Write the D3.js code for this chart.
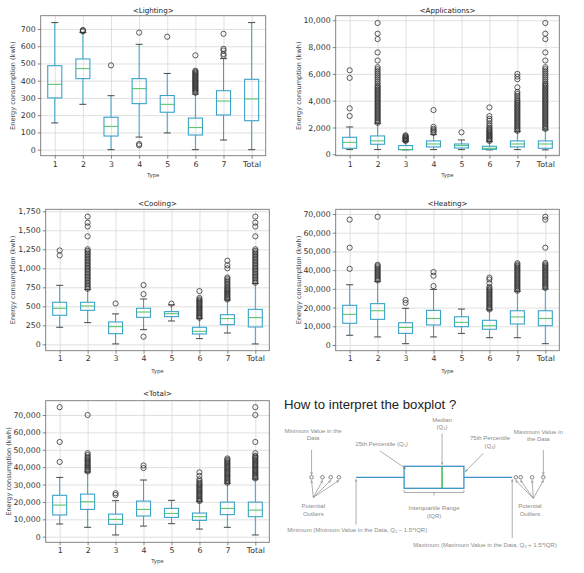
<!DOCTYPE html>
<html><head><meta charset="utf-8">
<script src="https://cdn.jsdelivr.net/npm/d3@7"></script>
<style>body{margin:0;background:#fff}svg{display:block}</style>
</head><body><svg id="c" width="584" height="573"></svg>
<script>
const categories = ["1","2","3","4","5","6","7","Total"];

// ---- Lighting ----
const lightingLow    = [155,263,0,73,97,0,56,0];
const lightingQ1     = [300,412,79,267,217,85,201,168];
const lightingMedian = [379,470,135,354,263,128,282,294];
const lightingQ3     = [487,526,188,412,314,183,342,408];
const lightingHigh   = [737,680,313,611,442,322,528,737];
const lightingOutliers = [[],[686,690,694],[489],[679,33,25],[655],
  [330,337,344,350,356,362,368,374,380,386,392,398,404,410,416,422,428,434,440,446,452,458,547],
  [545,555,575,585,672],[]];
const lightingTicks = [0,100,200,300,400,500,600,700];

// ---- Applications ----
const appLow    = [350,350,330,350,350,330,350,330];
const appQ1     = [450,750,340,550,470,370,550,450];
const appMedian = [895,1000,360,770,650,450,770,770];
const appQ3     = [1270,1370,650,1000,770,600,1000,1000];
const appHigh   = [2040,2310,950,1470,1070,950,1690,1820];
const appOutliers = [[2860,3430,5700,6270],
  [2350,2450,2550,2650,2750,2850,2950,3050,3150,3250,3350,3450,3550,3650,3750,3850,3950,4050,4150,4250,4350,4450,4550,4650,4750,4850,4950,5050,5150,5300,5450,5600,5750,5900,6050,6200,6350,6500,7000,7600,8600,9000,9800],
  [1000,1050,1100,1150,1200,1250,1300,1350,1420],
  [1600,1700,1800,1900,2050,3300],
  [1640],
  [1000,1080,1160,1240,1320,1400,1480,1560,1640,1720,1800,1900,2000,2150,2300,2500,2650,2850,3500],
  [1750,1850,1950,2050,2150,2250,2350,2450,2550,2650,2750,2850,2950,3050,3150,3250,3350,3450,3550,3650,3750,3850,3950,4050,4200,4350,4500,4650,5000,5600,5800,6000],
  [1900,2000,2100,2200,2300,2400,2500,2600,2700,2800,2900,3000,3100,3200,3300,3400,3500,3600,3700,3800,3900,4000,4100,4200,4300,4400,4500,4600,4700,4800,4900,5000,5100,5200,5300,5450,5600,5750,5900,6050,6200,6350,6500,7000,7600,8600,9000,9800]];
const appTicks = [0,2000,4000,6000,8000,10000];

// ---- Cooling ----
const coolLow    = [224,285,5,193,307,75,149,5];
const coolQ1     = [382,447,140,355,364,136,259,228];
const coolMedian = [474,504,232,425,403,171,338,351];
const coolQ3     = [553,553,294,474,430,224,390,460];
const coolHigh   = [776,720,400,596,520,340,583,800];
const coolOutliers = [[1170,1235],
  [730,750,770,790,810,830,850,870,890,910,930,950,970,990,1010,1030,1050,1070,1090,1110,1130,1150,1170,1190,1210,1230,1250,1420,1550,1600,1680],
  [537],
  [100,660,780],
  [535],
  [350,365,380,395,410,425,440,455,470,485,500,515,530,545,560,575,590,610,700],
  [590,605,620,635,650,665,680,695,710,725,740,760,780,800,820,840,860,880,1000,1040,1100],
  [810,830,850,870,890,910,930,950,970,990,1010,1030,1050,1070,1090,1110,1130,1150,1170,1190,1210,1230,1250,1420,1550,1600,1680]];
const coolTicks = [0,250,500,750,1000,1250,1500,1750];

// ---- Heating ----
const heatLow    = [5200,4300,700,4300,6200,3900,3900,700];
const heatQ1     = [11600,13700,6200,10700,9800,8400,11200,10300];
const heatMedian = [16400,18300,9400,14200,12100,10300,15000,14200];
const heatQ3     = [21200,22100,11900,18500,15100,13200,18300,18300];
const heatHigh   = [32200,34000,19600,29700,19200,18800,28700,29900];
const heatOutliers = [[40700,52000,67000],
  [34500,35200,35900,36600,37300,38000,38700,39400,40100,40800,41500,42200,42900,68500],
  [22500,24000],
  [31500,37000,39000],
  [],
  [19000,19700,20400,21100,21800,22500,23200,23900,24600,25300,26000,26700,27400,28100,28800,29500,30200,31000,33000,35000,36000],
  [29000,29700,30400,31100,31800,32500,33200,33900,34600,35300,36000,36700,37400,38100,38800,39500,40200,40900,41600,42300,43000,43700],
  [30500,31200,31900,32600,33300,34000,34700,35400,36100,36800,37500,38200,38900,39600,40300,41000,41700,42400,43100,43800,52000,67000,68500]];
const heatTicks = [0,10000,20000,30000,40000,50000,60000,70000];

// ---- Total ----
const totLow    = [7300,5400,1000,6100,7500,4400,5400,1000];
const totQ1     = [12500,15700,7100,11900,11100,9400,12700,11500];
const totMedian = [18200,20100,10000,15700,13400,11500,16300,15300];
const totQ3     = [23800,24500,13000,20500,16300,13600,19900,19900];
const totHigh   = [34100,37200,20700,32600,20900,20300,30700,33200];
const totOutliers = [[43000,54500,74500],
  [37500,38200,38900,39600,40300,41000,41700,42400,43100,43800,44500,45200,46000,47000,48000,70000],
  [24000,25000],
  [39500,41000],
  [],
  [20500,21200,21900,22600,23300,24000,24700,25400,26100,26800,27500,28200,28900,29600,30300,31000,32000,33000,35000,37000],
  [31000,31700,32400,33100,33800,34500,35200,35900,36600,37300,38000,38700,39400,40100,40800,41500,42200,42900,43600,44300,45000],
  [33500,34200,34900,35600,36300,37000,37700,38400,39100,39800,40500,41200,41900,42600,43300,44000,44700,45400,46100,46500,48000,54500,70000,74500]];
const totTicks = [0,10000,20000,30000,40000,50000,60000,70000];

// ---- Diagram (abstract units 0..100) ----
const diagLowOutliers  = [9, 13, 16, 19];
const diagStats = {min: 25.3, q1: 42.9, median: 56.8, q3: 64.8, max: 82.5};
const diagHighOutliers = [83.8, 85.6, 89.8, 93.9];

const svg = d3.select("#c");
const BOX = "#3aa3c8", MED = "#4cc065", FONT = "DejaVu Sans, sans-serif";
const commaFmt = d3.format(",");

const panels = [
  {title:"<Lighting>", low:lightingLow,q1:lightingQ1,med:lightingMedian,q3:lightingQ3,high:lightingHigh,out:lightingOutliers,ticks:lightingTicks,fmt:d3.format("d"),
   x0:40.7,x1:265.7,y0:15.7,y1:155.7,domain:[-35,777],titleY:12.5,ylabX:13.3,xtY:167.5,xlabY:176.5},
  {title:"<Applications>", low:appLow,q1:appQ1,med:appMedian,q3:appQ3,high:appHigh,out:appOutliers,ticks:appTicks,fmt:commaFmt,
   x0:335.7,x1:559.3,y0:15.7,y1:155.7,domain:[-104,10343],titleY:12.5,ylabX:299,xtY:167.5,xlabY:176.5},
  {title:"<Cooling>", low:coolLow,q1:coolQ1,med:coolMedian,q3:coolQ3,high:coolHigh,out:coolOutliers,ticks:coolTicks,fmt:commaFmt,
   x0:45.7,x1:269.3,y0:209.3,y1:350.7,domain:[-84,1776],titleY:205.5,ylabX:13.3,xtY:361.5,xlabY:372.5},
  {title:"<Heating>", low:heatLow,q1:heatQ1,med:heatMedian,q3:heatQ3,high:heatHigh,out:heatOutliers,ticks:heatTicks,fmt:commaFmt,
   x0:335.7,x1:559.3,y0:209.3,y1:350.7,domain:[-3046,72511],titleY:205.5,ylabX:299,xtY:361.5,xlabY:372.5},
  {title:"<Total>", low:totLow,q1:totQ1,med:totMedian,q3:totQ3,high:totHigh,out:totOutliers,ticks:totTicks,fmt:commaFmt,
   x0:45.7,x1:269.3,y0:400.7,y1:542.3,domain:[-3221,78225],titleY:396,ylabX:9,xtY:553.5,xlabY:562.5}
];

panels.forEach(p => {
  const g = svg.append("g");
  const x = d3.scalePoint().domain(categories).range([p.x0, p.x1]).padding(0.5);
  const y = d3.scaleLinear().domain(p.domain).range([p.y1, p.y0]);
  const w = p.x1 - p.x0, h = p.y1 - p.y0;
  // grid
  const gx = g.append("g").attr("transform", `translate(0,${p.y1})`)
    .call(d3.axisBottom(x).tickSize(-h).tickFormat(""));
  const gy = g.append("g").attr("transform", `translate(${p.x0},0)`)
    .call(d3.axisLeft(y).tickValues(p.ticks).tickSize(-w).tickFormat(""));
  [gx, gy].forEach(a => { a.select(".domain").remove(); a.selectAll("line").attr("stroke", "#d8d8d8").attr("stroke-width", 0.8); });
  // frame
  g.append("rect").attr("x", p.x0).attr("y", p.y0).attr("width", w).attr("height", h)
    .attr("fill", "none").attr("stroke", "#777").attr("stroke-width", 0.9);
  // axes with labels
  const ax = g.append("g").attr("transform", `translate(0,${p.y1})`)
    .call(d3.axisBottom(x).tickSize(3).tickPadding(2));
  const ay = g.append("g").attr("transform", `translate(${p.x0},0)`)
    .call(d3.axisLeft(y).tickValues(p.ticks).tickFormat(p.fmt).tickSize(3).tickPadding(2));
  [ax, ay].forEach(a => {
    a.select(".domain").remove();
    a.selectAll("line").attr("stroke", "#555").attr("stroke-width", 0.7);
    a.selectAll("text").attr("font-family", FONT).attr("font-size", 7.8).attr("fill", "#333");
  });
  ax.selectAll("text").attr("dy", null).attr("y", null).attr("transform", null)
    .attr("y", p.xtY - p.y1).attr("dominant-baseline", "auto");
  // title, labels
  g.append("text").attr("x", (p.x0 + p.x1) / 2).attr("y", p.titleY).attr("text-anchor", "middle")
    .attr("font-family", FONT).attr("font-size", 7.2).attr("fill", "#222").text(p.title);
  g.append("text").attr("transform", `translate(${p.ylabX},${(p.y0 + p.y1) / 2}) rotate(-90)`)
    .attr("text-anchor", "middle").attr("dominant-baseline", "middle")
    .attr("font-family", FONT).attr("font-size", 6.6).attr("fill", "#444").text("Energy consumption (kwh)");
  g.append("text").attr("x", (p.x0 + p.x1) / 2).attr("y", p.xlabY).attr("text-anchor", "middle")
    .attr("font-family", FONT).attr("font-size", 5.4).attr("fill", "#444").text("Type");

  const step = x.step(), bw = step * 0.5, cw = step * 0.25;
  categories.forEach((c, i) => {
    const cx = x(c);
    const bg = g.append("g");
    // whiskers
    bg.append("line").attr("x1", cx).attr("x2", cx).attr("y1", y(p.q3[i])).attr("y2", y(p.high[i]))
      .attr("stroke", BOX).attr("stroke-width", 1);
    bg.append("line").attr("x1", cx).attr("x2", cx).attr("y1", y(p.q1[i])).attr("y2", y(p.low[i]))
      .attr("stroke", BOX).attr("stroke-width", 1);
    // caps
    [p.high[i], p.low[i]].forEach(v => {
      bg.append("line").attr("x1", cx - cw / 2).attr("x2", cx + cw / 2).attr("y1", y(v)).attr("y2", y(v))
        .attr("stroke", "#333").attr("stroke-width", 0.9);
    });
    // box
    bg.append("rect").attr("x", cx - bw / 2).attr("width", bw)
      .attr("y", y(p.q3[i])).attr("height", Math.max(0.5, y(p.q1[i]) - y(p.q3[i])))
      .attr("fill", "none").attr("stroke", BOX).attr("stroke-width", 1.1);
    bg.append("line").attr("x1", cx - bw / 2).attr("x2", cx + bw / 2).attr("y1", y(p.med[i])).attr("y2", y(p.med[i]))
      .attr("stroke", MED).attr("stroke-width", 1);
    // outliers
    bg.selectAll("circle").data(p.out[i]).join("circle")
      .attr("cx", cx).attr("cy", d => y(d)).attr("r", 2.6)
      .attr("fill", "none").attr("stroke", "#333").attr("stroke-width", 0.8);
  });
});

// ---- Boxplot interpretation diagram ----
const D = svg.append("g");
const dx = d3.scaleLinear().domain([0, 100]).range([287, 560]);
const midY = 477.3, boxTop = 466.3, boxBot = 488.3;
const AFONT = "Liberation Sans, Arial, sans-serif", GRAY = "#8a8a8a", AGRAY = "#777";

const defs = svg.append("defs");
defs.append("marker").attr("id", "ah").attr("viewBox", "0 0 10 10").attr("refX", 9).attr("refY", 5)
  .attr("markerWidth", 5).attr("markerHeight", 5).attr("orient", "auto-start-reverse")
  .append("path").attr("d", "M0,1 L9,5 L0,9").attr("fill", "none").attr("stroke", AGRAY).attr("stroke-width", 1.5);

D.append("text").attr("x", 284).attr("y", 408.5).attr("font-family", AFONT).attr("font-size", 13.2)
  .attr("fill", "#222").text("How to interpret the boxplot ?");

// whiskers, box, median
D.append("line").attr("x1", dx(diagStats.min)).attr("x2", dx(diagStats.q1)).attr("y1", midY).attr("y2", midY)
  .attr("stroke", "#3d92c4").attr("stroke-width", 1.3);
D.append("line").attr("x1", dx(diagStats.q3)).attr("x2", dx(diagStats.max)).attr("y1", midY).attr("y2", midY)
  .attr("stroke", "#3d92c4").attr("stroke-width", 1.3);
D.append("rect").attr("x", dx(diagStats.q1)).attr("y", boxTop).attr("width", dx(diagStats.q3) - dx(diagStats.q1))
  .attr("height", boxBot - boxTop).attr("fill", "#fff").attr("stroke", "#3d92c4").attr("stroke-width", 1.3);
D.append("line").attr("x1", dx(diagStats.median)).attr("x2", dx(diagStats.median)).attr("y1", boxTop).attr("y2", boxBot)
  .attr("stroke", "#1fae3c").attr("stroke-width", 1.3);
// outlier circles
D.selectAll("circle.o").data(diagLowOutliers.concat(diagHighOutliers)).join("circle")
  .attr("cx", d => dx(d)).attr("cy", midY).attr("r", 1.8).attr("fill", "#fff")
  .attr("stroke", "#666").attr("stroke-width", 0.8);

function arrow(x1, y1, x2, y2) {
  D.append("line").attr("x1", x1).attr("y1", y1).attr("x2", x2).attr("y2", y2)
    .attr("stroke", AGRAY).attr("stroke-width", 0.6).attr("marker-end", "url(#ah)");
}
function label(x, y, lines, anchor) {
  const t = D.append("text").attr("font-family", AFONT).attr("font-size", 6).attr("fill", GRAY)
    .attr("text-anchor", anchor || "middle");
  lines.forEach((ln, i) => {
    const ts = t.append("tspan").attr("x", x).attr("y", y + i * 7.6);
    ln.forEach(part => {
      if (typeof part === "string") ts.append("tspan").text(part);
      else ts.append("tspan").attr("font-size", 4).attr("dy", 1.2).text(part.sub)
        .clone(true).attr("font-size", 6).attr("dy", -1.2).text(part.after || "");
    });
  });
}

// Minimum value in data
label(dx(diagLowOutliers[0]) + 1.5, 432.8, [["Minimum Value in the"], ["Data"]]);
arrow(dx(diagLowOutliers[0]), 450, dx(diagLowOutliers[0]), 474.5);
// 25th percentile
label(381.7, 445.5, [["25th Percentile (Q", {sub: "1", after: ")"}]]);
arrow(380, 451, dx(diagStats.q1) + 1.5, 468.5);
// Median
label(dx(diagStats.median), 421.5, [["Median"], ["(Q", {sub: "2", after: ")"}]]);
arrow(dx(diagStats.median), 433.5, dx(diagStats.median), 464.5);
// 75th percentile
label(490, 440.3, [["75th Percentile"], ["(Q", {sub: "3", after: ")"}]]);
arrow(483.3, 453.3, dx(diagStats.q3) + 1.5, 471.5);
// Maximum value
label(538.3, 433.8, [["Maximum Value in"], ["the Data"]]);
arrow(dx(diagHighOutliers[3]), 450, dx(diagHighOutliers[3]), 474.5);
// IQR brace
const bx1 = dx(diagStats.q1), bx2 = dx(diagStats.q3), bmid = (bx1 + bx2) / 2;
D.append("path").attr("d", `M${bx1},490 L${bx1},492.5 L${bx2},492.5 L${bx2},490 M${bmid},492.5 L${bmid},495.5`)
  .attr("fill", "none").attr("stroke", AGRAY).attr("stroke-width", 0.6);
label(bmid, 510.3, [["Interquartile Range"], ["(IQR)"]]);
// potential outliers
label(313.3, 508, [["Potential"], ["Outliers"]]);
diagLowOutliers.forEach(v => arrow(313.3, 497.5, dx(v), 480.5));
label(530, 508, [["Potential"], ["Outliers"]]);
diagHighOutliers.forEach(v => arrow(533.3, 498.3, dx(v), 480.5));
// min / max whisker labels
arrow(dx(diagStats.min), 524.5, dx(diagStats.min), 479.5);
label(287.3, 532, [["Minimum (Minimum Value in the Data, Q", {sub: "1", after: " \u2013 1.5*IQR)"}]], "start");
arrow(dx(diagStats.max), 538, dx(diagStats.max), 479.5);
label(413.3, 547, [["Maximum (Maximum Value in the Data, Q", {sub: "3", after: " + 1.5*IQR)"}]], "start");
</script></body></html>
